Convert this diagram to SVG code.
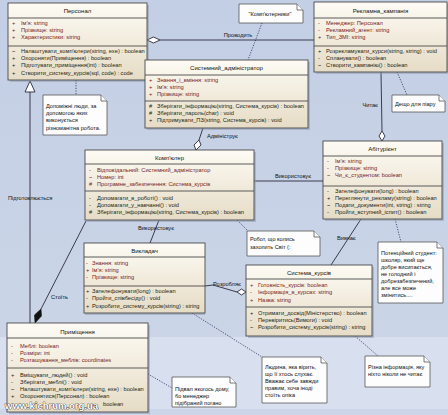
<svg xmlns="http://www.w3.org/2000/svg" width="448" height="415" viewBox="0 0 448 415">
<defs>
<linearGradient id="cls" x1="0" y1="0" x2="0" y2="1">
<stop offset="0" stop-color="#fdfbf4"/>
<stop offset="1" stop-color="#e6dcc6"/>
</linearGradient>
<linearGradient id="bg" x1="0" y1="0" x2="0" y2="1">
<stop offset="0" stop-color="#c3cfe5"/>
<stop offset="1" stop-color="#cdd6e8"/>
</linearGradient>
</defs>
<style>
.box{fill:url(#cls);stroke:#4a4a4a;stroke-width:0.9}
.shd{fill:#8e97aa;opacity:0.5}
.sep{stroke:#4a4a4a;stroke-width:0.9}
.t{font-family:"Liberation Sans",Arial,sans-serif;font-size:6px;fill:#111;text-anchor:middle}
.a{font-family:"Liberation Sans",Arial,sans-serif;font-size:5.7px;fill:#7a1a1a}
.o{font-family:"Liberation Sans",Arial,sans-serif;font-size:5.7px;fill:#1e1e10}
.l{font-family:"Liberation Sans",Arial,sans-serif;font-size:5.7px;fill:#111}
.n{font-family:"Liberation Sans",Arial,sans-serif;font-size:5.6px;fill:#111}
.note{fill:#fdfdfd;stroke:#555;stroke-width:0.8}
.ln{fill:none;stroke:#2a2a3a;stroke-width:0.9}
.dl{fill:none;stroke:#2a2a5a;stroke-width:0.8;stroke-dasharray:1.2 1.4}
.hd{fill:#fff;stroke:#2a2a3a;stroke-width:0.9}
</style>
<rect x="0" y="0" width="448" height="415" fill="url(#bg)"/>
<rect x="0" y="337" width="448" height="72" fill="#d8dfee"/>

<g id="connectors">
<!-- Проводить -->
<line class="ln" x1="160" y1="40" x2="314" y2="40"/>
<polygon class="hd" points="147,40 153.5,37 160,40 153.5,43"/>
<text class="l" x="238" y="37" text-anchor="middle">Проводить</text>
<line class="dl" x1="262" y1="23" x2="248" y2="60"/>
<!-- note Персонал -->
<line class="dl" x1="76" y1="80" x2="76" y2="95"/>
<!-- Підготовлюється generalization -->
<line class="ln" x1="30" y1="92" x2="30" y2="323"/>
<polygon class="hd" points="30,81 25,92 35,92"/>
<text class="l" x="8" y="200">Підготовлюється</text>
<!-- Стоїть -->
<line class="ln" x1="86" y1="221" x2="41" y2="309"/>
<polygon points="41,309 41.5,316 35,323 34.5,315" fill="#111" stroke="#111" stroke-width="0.6"/>
<text class="l" x="51" y="299">Стоїть</text>
<!-- Адмініструє -->
<line class="ln" x1="203" y1="128" x2="199" y2="140"/>
<polygon class="hd" points="199,140 201,145 196,150 194,145"/>
<text class="l" x="207" y="138">Адмініструє</text>
<!-- Читає -->
<line class="ln" x1="381" y1="72" x2="382" y2="131"/>
<polygon class="hd" points="382,131 385,136 382,141 379,136"/>
<text class="l" x="378" y="107" text-anchor="end">Читає</text>
<line class="dl" x1="397" y1="72" x2="407" y2="95"/>
<!-- Використовує К-А -->
<line class="ln" x1="254" y1="181" x2="323" y2="181"/>
<text class="l" x="293" y="178" text-anchor="middle">Використовує</text>
<!-- robot note -->
<line class="dl" x1="237" y1="220" x2="249" y2="232"/>
<!-- Використовує В-К -->
<line class="ln" x1="159" y1="220" x2="150" y2="243"/>
<text class="l" x="156" y="230" text-anchor="middle">Використовує</text>
<!-- Розробляє -->
<polyline class="ln" points="205,286 213,285 237,292"/>
<polygon class="hd" points="237,292 241.5,289 246,292 241.5,295"/>
<text class="l" x="213" y="286">Розробляє</text>
<!-- Вивчає -->
<line class="ln" x1="361" y1="219" x2="331" y2="265"/>
<text class="l" x="337" y="240">Вивчає</text>
<line class="dl" x1="395" y1="219" x2="401" y2="242"/>
<!-- Людина note -->
<line class="dl" x1="192" y1="313" x2="262" y2="357"/>
<!-- Різна note -->
<line class="dl" x1="355" y1="336" x2="378" y2="356"/>
<!-- Підвал note -->
<line class="dl" x1="148" y1="374" x2="172" y2="388"/>
</g>

<g id="personal">
<rect class="shd" x="10" y="5" width="139" height="77"/>
<rect class="box" x="8" y="3" width="139" height="77"/>
<line class="sep" x1="8" y1="18" x2="147" y2="18"/>
<line class="sep" x1="8" y1="46" x2="147" y2="46"/>
<text class="t" x="77.5" y="13">Персонал</text>
<text class="a" x="12" y="25">+</text><text class="a" x="21" y="25">Ім'я: string</text>
<text class="a" x="12" y="32">+</text><text class="a" x="21" y="32">Прізвище: string</text>
<text class="a" x="12" y="39">+</text><text class="a" x="21" y="39">Характеристики: string</text>
<text class="o" x="12" y="53">~</text><text class="o" x="21" y="53">Налаштувати_комп'ютери(string, exe) : boolean</text>
<text class="o" x="12" y="60">+</text><text class="o" x="21" y="60">Охороняти(Приміщення) : boolean</text>
<text class="o" x="12" y="67">+</text><text class="o" x="21" y="67">Підготувати_приміщення(int) : boolean</text>
<text class="o" x="12" y="75">+</text><text class="o" x="21" y="75">Створити_систему_курсів(sql, code) : code</text>
</g>

<g id="sysadmin">
<rect class="shd" x="147" y="62" width="163" height="68"/>
<rect class="box" x="145" y="60" width="163" height="68"/>
<line class="sep" x1="145" y1="75" x2="308" y2="75"/>
<line class="sep" x1="145" y1="101" x2="308" y2="101"/>
<text class="t" x="226.5" y="70">Системний_адміністратор</text>
<text class="a" x="149" y="82">+</text><text class="a" x="157" y="82">Знання_і_вміння: string</text>
<text class="a" x="149" y="89">+</text><text class="a" x="157" y="89">Ім'я: string</text>
<text class="a" x="149" y="96">+</text><text class="a" x="157" y="96">Прізвище: string</text>
<text class="o" x="149" y="108">#</text><text class="o" x="157" y="108">Зберігати_інформацію(string, Система_курсів) : boolean</text>
<text class="o" x="149" y="115">#</text><text class="o" x="157" y="115">Зберігати_пароль(char) : void</text>
<text class="o" x="149" y="122">+</text><text class="o" x="157" y="122">Підтримувати_ПЗ(string, Система_курсів) : void</text>
</g>

<g id="reklama">
<rect class="shd" x="316" y="4" width="133" height="70"/>
<rect class="box" x="314" y="2" width="133" height="70"/>
<line class="sep" x1="314" y1="18" x2="447" y2="18"/>
<line class="sep" x1="314" y1="46" x2="447" y2="46"/>
<text class="t" x="380.5" y="13">Рекламна_кампанія</text>
<text class="a" x="318" y="25">-</text><text class="a" x="326" y="25">Менеджер: Персонал</text>
<text class="a" x="318" y="32">-</text><text class="a" x="326" y="32">Рекламний_агент: string</text>
<text class="a" x="318" y="39">+</text><text class="a" x="326" y="39">Тип_ЗМІ: string</text>
<text class="o" x="318" y="53">+</text><text class="o" x="326" y="53">Розрекламувати_курси(string, string) : void</text>
<text class="o" x="318" y="60">-</text><text class="o" x="326" y="60">Спланувати() : boolean</text>
<text class="o" x="318" y="67">~</text><text class="o" x="326" y="67">Створити_кампанію() : boolean</text>
</g>

<g id="computer">
<rect class="shd" x="87" y="152" width="169" height="70"/>
<rect class="box" x="85" y="150" width="169" height="70"/>
<line class="sep" x1="85" y1="164" x2="254" y2="164"/>
<line class="sep" x1="85" y1="191" x2="254" y2="191"/>
<text class="t" x="169.5" y="160">Комп'ютер</text>
<text class="a" x="89" y="172">-</text><text class="a" x="97" y="172">Відповідальний: Системний_адміністратор</text>
<text class="a" x="89" y="179">~</text><text class="a" x="97" y="179">Номер: int</text>
<text class="a" x="89" y="186">#</text><text class="a" x="97" y="186">Програмне_забезпечення: Система_курсів</text>
<text class="o" x="89" y="200">-</text><text class="o" x="97" y="200">Допомагати_в_роботі() : void</text>
<text class="o" x="89" y="207">-</text><text class="o" x="97" y="207">Допомагати_у_навчанні() : void</text>
<text class="o" x="89" y="214">#</text><text class="o" x="97" y="214">Зберігати_інформацію(string, Система_курсів) : boolean</text>
</g>

<g id="abiturient">
<rect class="shd" x="325" y="143" width="119" height="78"/>
<rect class="box" x="323" y="141" width="119" height="78"/>
<line class="sep" x1="323" y1="156" x2="442" y2="156"/>
<line class="sep" x1="323" y1="186" x2="442" y2="186"/>
<text class="t" x="382.5" y="151">Абітурієнт</text>
<text class="a" x="327" y="163">-</text><text class="a" x="335" y="163">Ім'я: string</text>
<text class="a" x="327" y="170">-</text><text class="a" x="335" y="170">Прізвище: string</text>
<text class="a" x="327" y="177">~</text><text class="a" x="335" y="177">Чи_є_студентом: boolean</text>
<text class="o" x="327" y="193">-</text><text class="o" x="335" y="193">Зателефонувати(long) : boolean</text>
<text class="o" x="327" y="200">+</text><text class="o" x="335" y="200">Переглянути_рекламу(string) : boolean</text>
<text class="o" x="327" y="207">~</text><text class="o" x="335" y="207">Подати_документи(int, string) : string</text>
<text class="o" x="327" y="214">-</text><text class="o" x="335" y="214">Пройти_вступний_іспит() : boolean</text>
</g>

<g id="vykladach">
<rect class="shd" x="85" y="245" width="120" height="70"/>
<rect class="box" x="84" y="243" width="121" height="70"/>
<line class="sep" x1="84" y1="257" x2="205" y2="257"/>
<line class="sep" x1="84" y1="286" x2="205" y2="286"/>
<text class="t" x="144.5" y="253">Викладач</text>
<text class="a" x="86" y="265">-</text><text class="a" x="92" y="265">Знання: string</text>
<text class="a" x="86" y="272">+</text><text class="a" x="92" y="272">Ім'я: string</text>
<text class="a" x="86" y="279">-</text><text class="a" x="92" y="279">Прізвище: string</text>
<text class="o" x="86" y="293">+</text><text class="o" x="92" y="293">Зателефонувати(long) : boolean</text>
<text class="o" x="86" y="300">-</text><text class="o" x="92" y="300">Пройти_співбесіду() : void</text>
<text class="o" x="86" y="308">+</text><text class="o" x="92" y="308">Розробити_систему_курсів(string) : string</text>
</g>

<g id="systema">
<rect class="shd" x="248" y="267" width="126" height="71"/>
<rect class="box" x="246" y="265" width="126" height="71"/>
<line class="sep" x1="246" y1="279" x2="372" y2="279"/>
<line class="sep" x1="246" y1="307" x2="372" y2="307"/>
<text class="t" x="309" y="275">Система_курсів</text>
<text class="a" x="250" y="287">+</text><text class="a" x="258" y="287">Готовність_курсів: boolean</text>
<text class="a" x="250" y="294">-</text><text class="a" x="258" y="294">Інформація_в_курсах: string</text>
<text class="a" x="250" y="302">+</text><text class="a" x="258" y="302">Назва: string</text>
<text class="o" x="250" y="315">+</text><text class="o" x="258" y="315">Отримати_досвід(Міністерство) : boolean</text>
<text class="o" x="250" y="322">-</text><text class="o" x="258" y="322">Перевіритись(Вимоги) : void</text>
<text class="o" x="250" y="329">~</text><text class="o" x="258" y="329">Розробити_систему_курсів(string) : string</text>
</g>

<g id="prymishchennia">
<rect class="shd" x="9" y="325" width="141" height="89"/>
<rect class="box" x="7" y="323" width="141" height="89"/>
<line class="sep" x1="7" y1="338" x2="148" y2="338"/>
<line class="sep" x1="7" y1="368" x2="148" y2="368"/>
<text class="t" x="77.5" y="334">Приміщення</text>
<text class="a" x="11" y="348">-</text><text class="a" x="20" y="348">Меблі: boolean</text>
<text class="a" x="11" y="355">-</text><text class="a" x="20" y="355">Розміри: int</text>
<text class="a" x="11" y="362">-</text><text class="a" x="20" y="362">Розташування_меблів: coordinates</text>
<text class="o" x="11" y="377">+</text><text class="o" x="20" y="377">Вміщувати_людей() : void</text>
<text class="o" x="11" y="384">-</text><text class="o" x="20" y="384">Зберігати_меблі() : void</text>
<text class="o" x="11" y="391">~</text><text class="o" x="20" y="391">Налаштувати_комп'ютери(string, exe) : boolean</text>
<text class="o" x="11" y="398">+</text><text class="o" x="20" y="398">Охоронятися(Персонал) : boolean</text>
<text class="o" x="103" y="406">boolean</text>
</g>

<g id="note-kompiuternyky">
<path class="note" d="M239,4 H297 L303,10 V23 H239 Z"/>
<path class="note" d="M297,4 V10 H303"/>
<text class="n" x="270" y="16" text-anchor="middle">"Комп'ютерники"</text>
</g>
<g id="note-pr">
<path class="note" d="M392,95 H439 L445,101 V112 H392 Z"/>
<path class="note" d="M439,95 V101 H445"/>
<text class="n" x="395" y="106">Дещо для піару</text>
</g>
<g id="note-dopomizhni">
<path class="note" d="M43,95 H101 L107,101 V135 H43 Z"/>
<path class="note" d="M101,95 V101 H107"/>
<text class="n" x="46" y="108">Допоміжні люди, за</text>
<text class="n" x="46" y="115">допомогою яких</text>
<text class="n" x="46" y="122">виконується</text>
<text class="n" x="46" y="130">різноманітна робота.</text>
</g>
<g id="note-robot">
<path class="note" d="M247,231 H314 L320,237 V256 H247 Z"/>
<path class="note" d="M314,231 V237 H320"/>
<text class="n" x="250" y="241">Робот, що колись</text>
<text class="n" x="250" y="249">захопить Світ (:</text>
</g>
<g id="note-potentsiinyi">
<path class="note" d="M378,242 H437 L443,248 V303 H378 Z"/>
<path class="note" d="M437,242 V248 H443"/>
<text class="n" x="381" y="255">Потенційний студент:</text>
<text class="n" x="381" y="262">школяр, який ще</text>
<text class="n" x="381" y="269">добре висипається,</text>
<text class="n" x="381" y="276">не голодний і</text>
<text class="n" x="381" y="283">добрезабезпечений,</text>
<text class="n" x="381" y="290">але все може</text>
<text class="n" x="381" y="297">змінитись....</text>
</g>
<g id="note-pidval">
<path class="note" d="M172,377 H230 L236,383 V407 H172 Z"/>
<path class="note" d="M230,377 V383 H236"/>
<text class="n" x="175" y="391">Підвал якогось дому,</text>
<text class="n" x="175" y="398">бо менеджер</text>
<text class="n" x="175" y="405">підібраний погано</text>
</g>
<g id="note-liudyna">
<path class="note" d="M262,357 H321 L327,363 V403 H262 Z"/>
<path class="note" d="M321,357 V363 H327"/>
<text class="n" x="265" y="369">Людина, яка вірить,</text>
<text class="n" x="265" y="376">що її хтось слухає.</text>
<text class="n" x="265" y="383">Вважає себе завжди</text>
<text class="n" x="265" y="390">правим, хоча іноді</text>
<text class="n" x="265" y="397">стоїть опіка</text>
</g>
<g id="note-rizna">
<path class="note" d="M365,356 H424 L430,362 V387 H365 Z"/>
<path class="note" d="M424,356 V362 H430"/>
<text class="n" x="368" y="369">Різна інформація, яку</text>
<text class="n" x="368" y="376">ніхто ніколи не читає</text>
</g>
<text x="5" y="409" font-family="Liberation Sans, Arial, sans-serif" font-size="9.5px" font-weight="bold" fill="#ffffff" stroke="#111" stroke-width="0.7" paint-order="stroke">www.kichrum.org.ua</text>
</svg>
